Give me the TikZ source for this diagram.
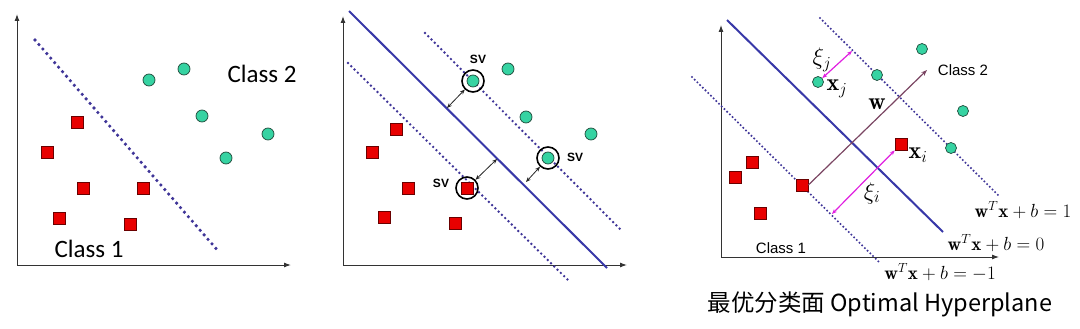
\RequirePackage{fix-cm}
\documentclass[tikz,border=0pt]{standalone}
\usepackage{fontspec}
\usepackage{amsmath}
\newfontfamily\carlito{Carlito}
\newfontfamily\lsans{Liberation Sans}
\newfontfamily\cjk{Noto Sans CJK SC}
\usetikzlibrary{arrows.meta}
\definecolor{sqred}{HTML}{E80000}
\definecolor{sqborder}{HTML}{6A0000}
\definecolor{ptgreen}{HTML}{36D3A2}
\definecolor{ptborder}{HTML}{1E4A3A}
\definecolor{lineblue}{HTML}{3838A8}
\definecolor{dotblue}{HTML}{3F3598}
\definecolor{wcol}{HTML}{7A4562}
\definecolor{xicol}{HTML}{E020E0}
\begin{document}
\begin{tikzpicture}[x=1pt,y=-1pt,
  sq/.style={draw=sqborder,fill=sqred,minimum size=12pt,inner sep=0pt,line width=0.7pt},
  pt/.style={circle,draw=ptborder,fill=ptgreen,minimum size=12pt,inner sep=0pt,line width=0.7pt},
  axis/.style={line width=1pt,draw=black!80,-{Latex[length=7pt,width=5pt]}},
  sep/.style={line width=2pt,draw=lineblue},
  dotsA/.style={draw=dotblue,line width=3.6pt,line cap=round,dash pattern=on 0pt off 6pt},
  dotsB/.style={draw=dotblue,line width=2.7pt,line cap=round,dash pattern=on 0pt off 4.6pt},
  dotsC/.style={draw=dotblue,line width=2.3pt,line cap=round,dash pattern=on 0pt off 3.8pt},
  svring/.style={circle,draw=black,line width=1.6pt,minimum size=22pt,inner sep=0pt},
  svlab/.style={font=\lsans\bfseries\fontsize{12}{13}\selectfont,inner sep=0pt},
  marg/.style={draw=black!85,line width=0.8pt,{Stealth[length=5pt,width=4pt]}-{Stealth[length=5pt,width=4pt]}},
  bigcls/.style={font=\carlito\fontsize{25}{28}\selectfont,inner sep=0pt},
  smcls/.style={font=\lsans\fontsize{15}{17}\selectfont,inner sep=0pt},
  eq/.style={font=\fontsize{19}{22}\selectfont,inner sep=0pt},
  mlab/.style={font=\fontsize{24}{28}\selectfont,inner sep=0pt},
  xiarrow/.style={draw=xicol,line width=1.2pt,{Stealth[length=5pt,width=4pt]}-{Stealth[length=5pt,width=4pt]}}
]
\useasboundingbox (0,0) rectangle (1080,329);
% ---------------- Panel 1 ----------------
\coordinate (o1) at (17,265);
\coordinate (y1) at (17,14);
\coordinate (x1) at (291,265);
\draw[axis] (o1) -- (y1);
\draw[axis] (o1) -- (x1);
\coordinate (d1a) at (35,40);
\coordinate (d1b) at (219,252);
\draw[dotsA] (d1a) -- (d1b);
\node[pt] (a1) at (149,80) {};
\node[pt] (a2) at (184,69) {};
\node[pt] (a3) at (202,116) {};
\node[pt] (a4) at (268,134) {};
\node[pt] (a5) at (226,158) {};
\node[sq] (b1) at (77,122) {};
\node[sq] (b2) at (47,152) {};
\node[sq] (b3) at (83,188) {};
\node[sq] (b4) at (143,188) {};
\node[sq] (b5) at (59,218) {};
\node[sq] (b6) at (130,224) {};
\node[bigcls] (c2a) at (262,74) {Class 2};
\node[bigcls] (c1a) at (89,249) {Class 1};
% ---------------- Panel 2 ----------------
\coordinate (o2) at (343,265);
\coordinate (y2) at (343,16);
\coordinate (x2) at (627,265);
\draw[axis] (o2) -- (y2);
\draw[axis] (o2) -- (x2);
\coordinate (s2a) at (349,11);
\coordinate (s2b) at (607,268);
\draw[sep] (s2a) -- (s2b);
\coordinate (u2a) at (425,33);
\coordinate (u2b) at (620,229);
\draw[dotsB] (u2a) -- (u2b);
\coordinate (l2a) at (348,63);
\coordinate (l2b) at (569,281);
\draw[dotsB] (l2a) -- (l2b);
\node[pt] (p1) at (473,81) {};
\node[pt] (p2) at (508,69) {};
\node[pt] (p3) at (526,117) {};
\node[pt] (p4) at (591,134) {};
\node[pt] (p5) at (548,158) {};
\node[sq] (q1) at (396,129) {};
\node[sq] (q2) at (372,152) {};
\node[sq] (q3) at (408,188) {};
\node[sq] (q4) at (467,188) {};
\node[sq] (q5) at (384,217) {};
\node[sq] (q6) at (455,223) {};
\node[svring] (r1) at (473,81) {};
\node[svring] (r2) at (548,158) {};
\node[svring] (r3) at (467,188) {};
\node[svlab] (sv1) at (478,59) {SV};
\node[svlab] (sv2) at (575,157) {SV};
\node[svlab] (sv3) at (441,183) {SV};
\coordinate (m1a) at (447,108);
\coordinate (m2a) at (497,159);
\coordinate (m3a) at (526,182);
\draw[marg] (m1a) -- (r1);
\draw[marg] (r3) -- (m2a);
\draw[marg] (m3a) -- (r2);
% ---------------- Panel 3 ----------------
\coordinate (o3) at (721,257);
\coordinate (y3) at (721,25);
\coordinate (x3) at (999,257);
\draw[axis,line width=0.9pt] (o3) -- (y3);
\draw[axis,line width=0.9pt] (o3) -- (x3);
\coordinate (s3a) at (727,20);
\coordinate (s3b) at (943,232);
\draw[sep] (s3a) -- (s3b);
\coordinate (u3a) at (820,18);
\coordinate (u3b) at (998,195);
\draw[dotsC] (u3a) -- (u3b);
\coordinate (l3a) at (692,77);
\coordinate (l3b) at (880,263);
\draw[dotsC] (l3a) -- (l3b);
\node[pt,minimum size=11pt] (g1) at (818,82) {};
\node[pt,minimum size=11pt] (g2) at (877,75) {};
\node[pt,minimum size=11pt] (g3) at (922,49) {};
\node[pt,minimum size=11pt] (g4) at (963,111) {};
\node[pt,minimum size=11pt] (g5) at (951,148) {};
\node[sq] (h1) at (901,144) {};
\node[sq] (h2) at (752,162) {};
\node[sq] (h3) at (735,177) {};
\node[sq] (h4) at (802,185) {};
\node[sq] (h5) at (760,213) {};
\coordinate (wtip) at (927,70);
\draw[draw=wcol,line width=1.2pt,-{Stealth[length=6pt,width=4.5pt]}] (h4.east) -- (wtip);
\node[mlab] (wl) at (877,104) {$\mathbf{w}$};
\coordinate (xj2) at (852,51);
\draw[xiarrow] (g1) -- (xj2);
\coordinate (xi2) at (832,214);
\draw[xiarrow] (xi2) -- (h1);
\node[mlab] (xjl) at (822,60) {$\xi_j$};
\node[mlab] (xil) at (872,193) {$\xi_i$};
\node[mlab] (xjn) at (837,89) {$\mathbf{x}_j$};
\node[mlab] (xin) at (918,155) {$\mathbf{x}_i$};
\node[smcls] (c2b) at (963,70) {Class 2};
\node[smcls] (c1b) at (781,248) {Class 1};
\node[eq] (e1) at (1023,210) {$\mathbf{w}^T\mathbf{x}+b=1$};
\node[eq] (e0) at (996,243) {$\mathbf{w}^T\mathbf{x}+b=0$};
\node[eq] (em) at (940,272) {$\mathbf{w}^T\mathbf{x}+b=-1$};
\node[font=\cjk\fontsize{23.5}{27}\selectfont,inner sep=0pt] (cap) at (880,304) {最优分类面 Optimal Hyperplane};
\end{tikzpicture}
\end{document}
